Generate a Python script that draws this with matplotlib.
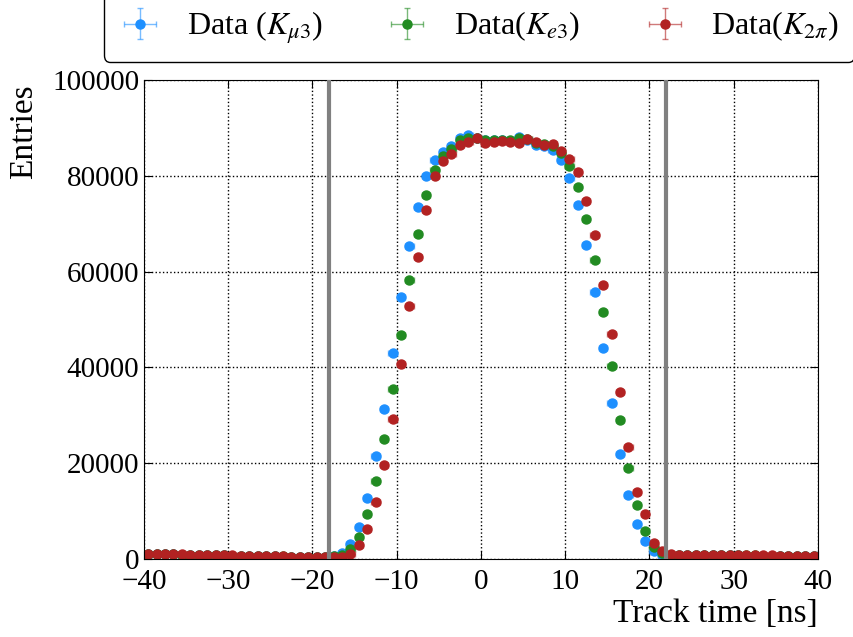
import matplotlib
matplotlib.use("Agg")
import matplotlib.pyplot as plt
import numpy as np

plt.rcParams["font.family"] = ["Liberation Serif", "DejaVu Serif"]
plt.rcParams["mathtext.fontset"] = "stix"
plt.rcParams["font.size"] = 21

# bin centres, 1 ns bins from -40 to 40
t_centres = np.arange(-39.5, 40.0, 1.0)

left_tail = [1050, 1030, 1010, 990, 960, 930, 900, 860, 820, 780,
             740, 700, 660, 630, 600, 570, 540, 510, 490, 470, 450, 440]
right_tail = [950, 920, 890, 870, 850, 830, 810, 790, 770,
              760, 750, 740, 730, 720, 710, 700, 690, 680]

kmu3_core = [700, 1320, 3130, 6610, 12810, 21450, 31330, 42960, 54730, 65390,
             73460, 80000, 83210, 84950, 86140, 87880, 88570, 87880,
             87390, 87390, 87390, 87180, 88090, 87500, 86490, 86280, 85300,
             83350, 79600, 73880, 65530, 55640, 44010, 32520, 21930, 13300,
             7310, 3690, 1740, 840]
ke3_core = [550, 840, 2030, 4670, 9330, 16290, 25000, 35440, 46860, 58210,
            67820, 76040, 81260, 84190, 85580, 87390, 87880, 87880,
            87390, 87530, 87390, 87390, 87880, 87700, 86830, 86690, 86280,
            84750, 81960, 77570, 70890, 62320, 51600, 40390, 28970, 19010,
            11210, 5780, 2580, 1190]
k2pi_core = [450, 490, 1100, 2850, 6340, 11980, 19640, 29170, 40810, 52780,
             63090, 72770, 79870, 83000, 84600, 86490, 86970, 87880,
             86830, 86970, 87180, 86970, 86830, 87700, 86970, 86490, 86690,
             85090, 83490, 80700, 74790, 67540, 57240, 46940, 34820, 23330,
             14060, 9400, 3270, 1670]

kmu3 = np.array([v * 0.95 for v in left_tail] + kmu3_core + [v * 0.95 for v in right_tail])
ke3 = np.array([v * 0.97 for v in left_tail] + ke3_core + [v * 0.97 for v in right_tail])
k2pi = np.array(left_tail + k2pi_core + right_tail)

series = [
    (kmu3, "#1e90ff", r"Data ($K_{\mu3}$)"),
    (ke3, "#228b22", r"Data($K_{e3}$)"),
    (k2pi, "#b22222", r"Data($K_{2\pi}$)"),
]

cut_lo, cut_hi = -18, 22

fig = plt.figure(figsize=(8.54, 6.37), dpi=100)
ax = fig.add_axes([0.1686, 0.1225, 0.7892, 0.7519])

for counts, color, label in series:
    eb = ax.errorbar(t_centres, counts, xerr=0.5, yerr=np.sqrt(counts),
                     fmt="o", color=color, markersize=6.5, capsize=2,
                     elinewidth=1, ecolor=color, label=label)
    for line in eb[1]:
        line.set_alpha(0.6)
    for coll in eb[2]:
        coll.set_alpha(0.6)

ax.axvline(cut_lo, color="gray", lw=3, zorder=5)
ax.axvline(cut_hi, color="gray", lw=3, zorder=5)

ax.set_xlim(-40, 40)
ax.set_ylim(0, 100000)
ax.set_xticks(np.arange(-40, 41, 10))
ax.set_yticks(np.arange(0, 100001, 20000))
ax.grid(True, color="black", linestyle=":", linewidth=1)
ax.tick_params(direction="in", top=True, right=True, length=6, labelsize=21)
ax.tick_params(axis="x", pad=7)
ax.set_axisbelow(True)

ax.set_xlabel("Track time [ns]", fontsize=24, loc="right")
ax.set_ylabel("Entries", fontsize=24, loc="top")
ax.xaxis.set_label_coords(1.0, -0.082)
ax.yaxis.set_label_coords(-0.155, 0.99)

fig.legend(loc="upper center", bbox_to_anchor=(0.561, 1.01), ncol=3,
           fontsize=23, frameon=True, fancybox=True, edgecolor="black",
           framealpha=1, columnspacing=2.0, handletextpad=0.8,
           handlelength=1.3, borderpad=0.5, borderaxespad=0)

fig.savefig("out.png", dpi=100)
